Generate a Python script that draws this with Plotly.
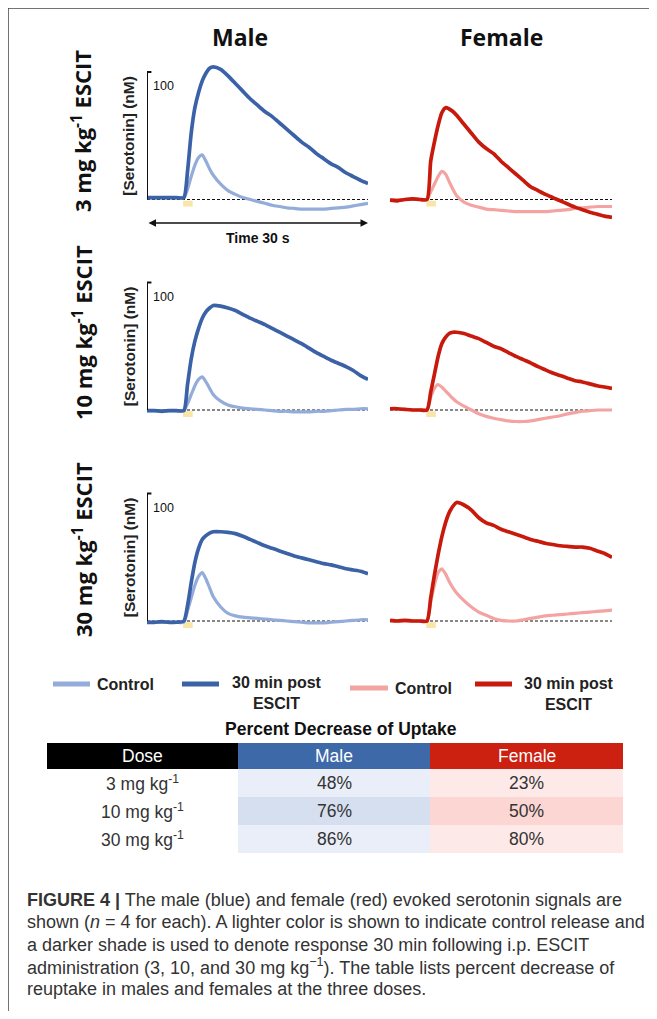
import plotly.graph_objects as go

# The page body adds an 8 px margin, so the figure is sized to fit the window
# and every reference pixel position is shifted by that margin.
OFF = 8
W, H = 657 - 2 * OFF, 1019 - 2 * OFF


def px(x):
    return (x - OFF) / W


def py(y):
    return 1 - (y - OFF) / H


# ---------------- data ----------------
t = [0, 1, 2, 3, 4, 5, 5.5, 6, 6.5, 7, 7.5, 8, 8.5, 9, 10, 11, 12, 13, 14, 15, 16, 17, 18, 19,
     20, 21, 22, 23, 24, 25, 26, 27, 28, 29, 30]

male_ctrl_3 = [1.5, 1.5, 1.5, 1.5, 1.5, 1.5, 8, 18, 27, 33, 35, 30, 24, 19, 12, 7, 4, 1.5, 0, -1.5,
               -3, -4.5, -5.5, -6.5, -7, -7.5, -7.5, -7.5, -7.5, -7, -6.5, -6, -5, -4, -3]
male_post_3 = [1.5, 1.5, 1.5, 1.5, 1.5, 1.5, 22, 52, 72, 84, 93, 99, 103, 104, 102, 97, 91, 85, 79,
               74, 69, 65, 60, 55, 50, 45, 41, 36, 32, 28, 25, 21, 18, 15, 12.5]
female_ctrl_3 = [0, 0, 0, 0, 0, 0, 6, 12, 18, 22, 20, 14, 8, 3, -2, -4.5, -6, -7.5, -8, -8.5, -9,
                 -9.5, -9.5, -9.5, -9.5, -9.5, -9, -8.5, -8, -7, -6.5, -6, -5.5, -5.5, -5.5]
female_post_3 = [-0.5, -1, 0, 0.5, 0, 0, 30, 45, 58, 68, 72, 71, 69, 66, 59, 52, 45, 40, 36, 30, 25,
                 20, 15, 10, 7, 4, 1.5, -1, -3.5, -6, -8, -10, -11.5, -13, -14]

male_ctrl_10 = [-0.5, -0.5, -0.5, -0.5, -0.5, -0.5, 5, 12, 19, 24, 26, 22, 17, 12, 7, 4, 2.5, 1.5, 1,
                0.5, 0, -0.5, -1, -1, -1.5, -1.5, -1.5, -1, -1, -0.5, 0, 0.5, 0.5, 1, 1]
male_post_10 = [-0.5, -0.5, -1, -0.5, -0.5, -0.5, 20, 40, 54, 64, 72, 77, 80, 82, 81.5, 80, 78, 75,
                72, 69.5, 67, 64, 61, 58, 55, 52, 48.5, 45, 42, 39, 36.5, 34, 31, 27, 24]
female_ctrl_10 = [1, 1, 0.5, 0, 0, 0, 10, 17, 20, 18, 15, 12, 9, 6.5, 3, 0, -3, -5, -6.5, -7.5, -8.5,
                  -9, -9, -8.5, -7.5, -6.5, -5.5, -4.5, -3, -2, -1, -0.5, 0, 0, 0]
female_post_10 = [1, 1, 0.5, 0, 0, 0, 14, 28, 42, 52, 57, 60, 61, 61, 60, 58, 56, 53, 50, 48, 45, 42,
                  39.5, 37, 34, 31.5, 29, 27, 25, 23, 22, 20.5, 19, 18, 17]

male_ctrl_30 = [-1, -1, -1, -1, -1, -1, 8, 18, 28, 35, 38, 33, 26, 19, 11, 6, 4, 3, 2.5, 2, 1.5, 1,
                0.5, 0, -0.5, -1, -1.5, -1.5, -1.5, -1, -0.5, 0, 0.5, 1, 1]
male_post_30 = [-1, -1, -0.5, -1, -1, 0, 12, 30, 46, 57, 64, 67, 69, 70, 70, 69.5, 68.5, 66.5, 64,
                61.5, 59, 57, 55, 53, 51, 49.5, 48, 46.5, 45, 44, 42.5, 41, 40, 39, 37]
female_ctrl_30 = [0, 0, 0, 0, 0, 0, 15, 28, 38, 41, 37, 31, 26, 22, 16, 11, 7, 4.5, 2, 0.5, 0, 0, 1,
                  2, 3, 4, 4.5, 5, 5.5, 6, 6.5, 7, 7.5, 8, 8.5]
female_post_30 = [0.5, 0, 0.5, 0, 0, 0, 18, 36, 52, 66, 77, 85, 90, 93, 91, 87, 81, 77, 75, 72, 70,
                  68, 66, 64, 62.5, 61, 60, 59, 58.5, 58, 58, 57, 55, 53, 50]

dose_row_labels = ["3 mg kg<sup>-1</sup> ESCIT", "10 mg kg<sup>-1</sup> ESCIT",
                   "30 mg kg<sup>-1</sup> ESCIT"]
sex_titles = ["Male", "Female"]
stim_window = [4.9, 6.2]
scale_bar_nM = 100
time_span_s = 30

table_title = "Percent Decrease of Uptake"
table_header = ["Dose", "Male", "Female"]
table_doses = ["3 mg kg<sup>-1</sup>", "10 mg kg<sup>-1</sup>", "30 mg kg<sup>-1</sup>"]
table_male = ["48%", "76%", "86%"]
table_female = ["23%", "50%", "80%"]

legend_labels = ["Control", "30 min post<br>ESCIT", "Control", "30 min post<br>ESCIT"]

caption_lines = [
    "<b>FIGURE 4 |</b> The male (blue) and female (red) evoked serotonin signals are",
    "shown (<i>n</i> = 4 for each). A lighter color is shown to indicate control release and",
    "a darker shade is used to denote response 30 min following i.p. ESCIT",
    "administration (3, 10, and 30 mg kg<sup>\u22121</sup>). The table lists percent decrease of",
    "reuptake in males and females at the three doses.",
]

# ---------------- style ----------------
MALE_LIGHT = "#93acd9"
MALE_DARK = "#3b62a6"
FEM_LIGHT = "#f4a3a3"
FEM_DARK = "#c81a0c"
SANS = "Liberation Sans, Arial, sans-serif"
OPEN = "Open Sans, sans-serif"

panels = [
    [(male_ctrl_3, male_post_3), (female_ctrl_3, female_post_3)],
    [(male_ctrl_10, male_post_10), (female_ctrl_10, female_post_10)],
    [(male_ctrl_30, male_post_30), (female_ctrl_30, female_post_30)],
]
colors = [(MALE_LIGHT, MALE_DARK), (FEM_LIGHT, FEM_DARK)]

baselines = [199.5, 410, 621]
label_centers = [131, 333, 550]
PXN = 1.275
YMIN, YMAX = -20, 110
col_x = [(147, 368), (390, 612)]

fig = go.Figure()
layout_axes = {}
shapes = []
annotations = []

for r in range(3):
    b = baselines[r]
    for c in range(2):
        k = r * 2 + c + 1
        sfx = "" if k == 1 else str(k)
        xa, ya = "x" + sfx, "y" + sfx
        layout_axes["xaxis" + sfx] = dict(domain=[px(col_x[c][0]), px(col_x[c][1])],
                                          range=[0, time_span_s], visible=False, anchor=ya,
                                          fixedrange=True)
        layout_axes["yaxis" + sfx] = dict(domain=[py(b - YMIN * PXN), py(b - YMAX * PXN)],
                                          range=[YMIN, YMAX], visible=False, anchor=xa,
                                          fixedrange=True)
        ctrl, post = panels[r][c]
        light, dark = colors[c]
        fig.add_trace(go.Scatter(x=t, y=ctrl, xaxis=xa, yaxis=ya, mode="lines",
                                 line=dict(color=light, width=3.2, shape="spline",
                                           smoothing=0.6),
                                 showlegend=False, hoverinfo="skip"))
        fig.add_trace(go.Scatter(x=t, y=post, xaxis=xa, yaxis=ya, mode="lines",
                                 line=dict(color=dark, width=3.7, shape="spline",
                                           smoothing=0.6),
                                 showlegend=False, hoverinfo="skip"))
        # dashed baseline
        shapes.append(dict(type="line", xref=xa, yref=ya, x0=0, x1=time_span_s, y0=0, y1=0,
                           line=dict(color="#111", width=1.1, dash="3px,2px"), layer="below"))
        # stimulation marker
        shapes.append(dict(type="rect", xref=xa, yref=ya, x0=stim_window[0], x1=stim_window[1],
                           y0=-1, y1=-5.5, fillcolor="#f6dc8a", opacity=0.75,
                           line=dict(width=0), layer="below"))
        if c == 0:
            shapes.append(dict(type="line", xref=xa, yref=ya, x0=0, x1=0, y0=0, y1=scale_bar_nM,
                               line=dict(color="#111", width=2)))
            shapes.append(dict(type="line", xref=xa, yref=ya, x0=0, x1=0.6, y0=scale_bar_nM,
                               y1=scale_bar_nM, line=dict(color="#111", width=2)))
            annotations.append(dict(xref=xa, yref=ya, x=0.5, y=89, text=str(scale_bar_nM),
                                    showarrow=False, xanchor="left", yanchor="middle",
                                    font=dict(family=SANS, size=12.5, color="#111")))
            annotations.append(dict(xref="paper", yref=ya, x=px(129), y=50,
                                    text="<b>[Serotonin] (nM)</b>", textangle=-90,
                                    showarrow=False, xanchor="center", yanchor="middle",
                                    font=dict(family=SANS, size=15.5, color="#222")))
    annotations.append(dict(xref="paper", yref="paper", x=px(82), y=py(label_centers[r]),
                            text="<b>" + dose_row_labels[r] + "</b>", textangle=-90,
                            showarrow=False, xanchor="center", yanchor="middle",
                            font=dict(family=OPEN, size=22, color="#111")))

# column titles
for c, cx in enumerate([240, 501]):
    annotations.append(dict(xref="paper", yref="paper", x=px(cx), y=py(37),
                            text="<b>" + sex_titles[c] + "</b>", showarrow=False,
                            xanchor="center", yanchor="middle",
                            font=dict(family=OPEN, size=23, color="#111")))

# time arrow (in row-1 male axes, below the baseline)
arrow_y = (baselines[0] - 223) / PXN
annotations.append(dict(xref="x", yref="y", x=time_span_s, y=arrow_y, axref="x",
                        ayref="y", ax=0, ay=arrow_y, text="", showarrow=True,
                        arrowhead=2, arrowside="end+start", arrowsize=1, arrowwidth=1.5,
                        arrowcolor="#111", standoff=0, startstandoff=0))
annotations.append(dict(xref="x", yref="paper", x=time_span_s / 2, y=py(237.5),
                        text="<b>Time %d s</b>" % time_span_s, showarrow=False,
                        xanchor="center", yanchor="middle",
                        font=dict(family=SANS, size=14, color="#111")))

# legend
leg_items = [
    (MALE_LIGHT, 53, 90, 684, legend_labels[0], 95, "left", 684),
    (MALE_DARK, 182, 219, 684, legend_labels[1], 277, "center", 693),
    (FEM_LIGHT, 350, 388, 688, legend_labels[2], 393, "left", 688),
    (FEM_DARK, 475, 512, 684, legend_labels[3], 569, "center", 694),
]
for col, x0, x1, ly, txt, tx, anc, ty in leg_items:
    shapes.append(dict(type="line", xref="paper", yref="paper", x0=px(x0), x1=px(x1),
                       y0=py(ly), y1=py(ly), line=dict(color=col, width=5)))
    annotations.append(dict(xref="paper", yref="paper", x=px(tx), y=py(ty),
                            text="<b>" + txt + "</b>", showarrow=False, xanchor=anc,
                            yanchor="middle", align="center",
                            font=dict(family=SANS, size=16, color="#222")))

# table title
annotations.append(dict(xref="paper", yref="paper", x=px(341), y=py(729),
                        text="<b>" + table_title + "</b>", showarrow=False,
                        xanchor="center", yanchor="middle",
                        font=dict(family=SANS, size=17.5, color="#111")))

# table drawn as coloured cells with text
tbl_cols = [47, 238, 430, 623]
tbl_rows = [743, 769, 797, 825, 853]
header_fill = ["#000000", "#3e69a8", "#cc2010"]
body_fill = [
    ["#ffffff", "#ffffff", "#ffffff"],
    ["#e9eef8", "#d6dff0", "#e9eef8"],
    ["#fde9e7", "#fbd6d3", "#fde9e7"],
]
body_text = [table_doses, table_male, table_female]
for j in range(3):
    x0, x1 = tbl_cols[j], tbl_cols[j + 1]
    shapes.append(dict(type="rect", xref="paper", yref="paper", x0=px(x0), x1=px(x1),
                       y0=py(tbl_rows[1]), y1=py(tbl_rows[0]), fillcolor=header_fill[j],
                       line=dict(width=0), layer="below"))
    annotations.append(dict(xref="paper", yref="paper", x=px((x0 + x1) / 2),
                            y=py((tbl_rows[0] + tbl_rows[1]) / 2), text=table_header[j],
                            showarrow=False, xanchor="center", yanchor="middle",
                            font=dict(family=SANS, size=17.5, color="white")))
    for i in range(3):
        y0, y1 = tbl_rows[i + 1], tbl_rows[i + 2]
        shapes.append(dict(type="rect", xref="paper", yref="paper", x0=px(x0), x1=px(x1),
                           y0=py(y1), y1=py(y0), fillcolor=body_fill[j][i],
                           line=dict(width=0), layer="below"))
        annotations.append(dict(xref="paper", yref="paper", x=px((x0 + x1) / 2),
                                y=py((y0 + y1) / 2), text=body_text[j][i], showarrow=False,
                                xanchor="center", yanchor="middle",
                                font=dict(family=SANS, size=17.5, color="#333")))

# caption
for i, line in enumerate(caption_lines):
    annotations.append(dict(xref="paper", yref="paper", x=px(25), y=py(900 + 22.3 * i),
                            text=line, showarrow=False, xanchor="left", yanchor="middle",
                            font=dict(family=SANS, size=18, color="#333")))

# frame lines (left and top)
shapes.append(dict(type="line", xref="paper", yref="paper", x0=px(8), x1=1, y0=py(8), y1=py(8),
                   line=dict(color="#444", width=1.5)))
shapes.append(dict(type="line", xref="paper", yref="paper", x0=px(8), x1=px(8), y0=py(8), y1=0,
                   line=dict(color="#444", width=1.5)))

fig.update_layout(
    width=W, height=H, margin=dict(l=0, r=0, t=0, b=0),
    paper_bgcolor="white", plot_bgcolor="white",
    shapes=shapes, annotations=annotations, showlegend=False,
    **layout_axes,
)

fig.write_html("out.html")
